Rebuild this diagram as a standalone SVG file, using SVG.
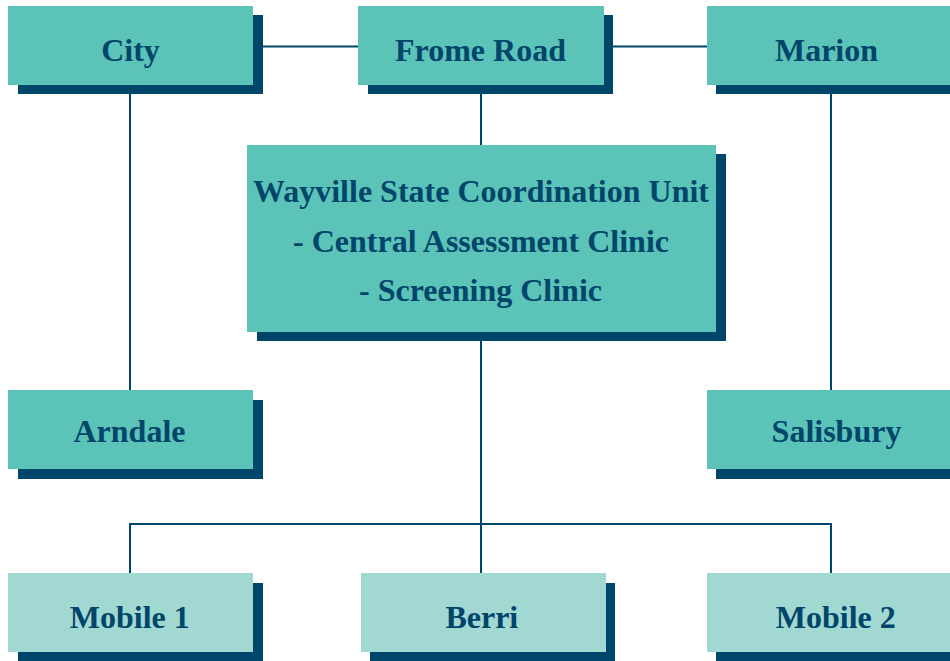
<svg xmlns="http://www.w3.org/2000/svg" width="950" height="661" viewBox="0 0 950 661">
<style>
.sh{fill:#00456A}
.bx{fill:#5CC3B8}
.lt{fill:#A2D8D2}
.t{font-family:"Liberation Serif","Times New Roman",serif;font-weight:bold;font-size:32px;fill:#00456A;text-anchor:middle}
.c{stroke:#00456A;stroke-width:2;fill:none}
</style>
<rect width="950" height="661" fill="#fff"/>
<g id="connectors">
<path class="c" d="M263 46.5H358M613 46.5H707M481 94V145M130 94V390M831 94V390M481 341V573M130 573V524H831V573"/>
</g>
<g id="city"><rect class="sh" x="18" y="15" width="245" height="79"/><rect class="bx" x="8" y="6" width="245" height="79"/><text class="t" x="130.5" y="61">City</text></g>
<g id="frome"><rect class="sh" x="368" y="15" width="245" height="79"/><rect class="bx" x="358" y="6" width="246" height="79"/><text class="t" x="480.5" y="60.5">Frome Road</text></g>
<g id="marion"><rect class="sh" x="716" y="15" width="245" height="79"/><rect class="bx" x="707" y="6" width="245" height="79"/><text class="t" x="826.5" y="61">Marion</text></g>
<g id="wayville"><rect class="sh" x="257" y="154" width="469" height="187"/><rect class="bx" x="247" y="145" width="469" height="187"/>
<text class="t" x="481" y="202">Wayville State Coordination Unit</text>
<text class="t" x="481" y="252">- Central Assessment Clinic</text>
<text class="t" x="480.5" y="301">- Screening Clinic</text></g>
<g id="arndale"><rect class="sh" x="18" y="400" width="245" height="79"/><rect class="bx" x="8" y="390" width="245" height="79"/><text class="t" x="129.5" y="441.5">Arndale</text></g>
<g id="salisbury"><rect class="sh" x="716" y="400" width="245" height="79"/><rect class="bx" x="707" y="390" width="245" height="79"/><text class="t" x="836.5" y="441.5">Salisbury</text></g>
<g id="mobile1"><rect class="sh" x="18" y="583" width="245" height="79"/><rect class="lt" x="8" y="573" width="245" height="79"/><text class="t" x="129.8" y="627.5">Mobile 1</text></g>
<g id="berri"><rect class="sh" x="370" y="583" width="245" height="79"/><rect class="lt" x="361" y="573" width="245" height="79"/><text class="t" x="481.8" y="627.5">Berri</text></g>
<g id="mobile2"><rect class="sh" x="716" y="583" width="245" height="79"/><rect class="lt" x="707" y="573" width="245" height="79"/><text class="t" x="835.8" y="627.5">Mobile 2</text></g>
</svg>
